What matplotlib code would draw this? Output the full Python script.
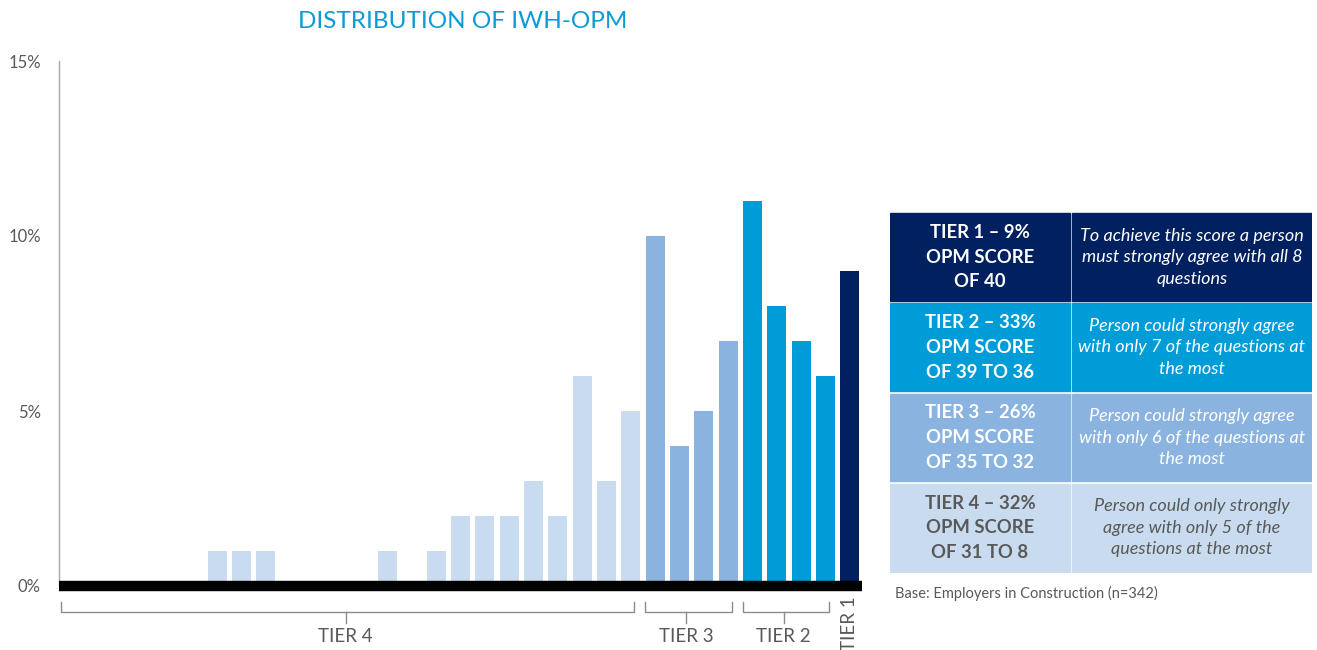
import matplotlib.pyplot as plt
from matplotlib.patches import Rectangle

plt.rcParams['font.family'] = ['Lato', 'DejaVu Sans']

# OPM score -> share of employers (%)
scores = list(range(8, 41))
shares = [0, 0, 0, 0, 0, 0, 1, 1, 1, 0, 0, 0, 0, 1, 0, 1, 2, 2, 2, 3, 2, 6, 3, 5,
          10, 4, 5, 7,
          11, 8, 7, 6,
          9]

tier_names = ['TIER 4', 'TIER 3', 'TIER 2', 'TIER 1']
tier_ranges = [(8, 31), (32, 35), (36, 39), (40, 40)]
tier_colors = ['#C9DCEF', '#8AB4DF', '#009CD8', '#00205F']

table_heads = ['TIER 1 \u2013 9%\nOPM SCORE\nOF 40',
               'TIER 2 \u2013 33%\nOPM SCORE\nOF 39 TO 36',
               'TIER 3 \u2013 26%\nOPM SCORE\nOF 35 TO 32',
               'TIER 4 \u2013 32%\nOPM SCORE\nOF 31 TO 8']
table_notes = ['To achieve this score a person\nmust strongly agree with all 8\nquestions',
               'Person could strongly agree\nwith only 7 of the questions at\nthe most',
               'Person could strongly agree\nwith only 6 of the questions at\nthe most',
               'Person could only strongly\nagree with only 5 of the\nquestions at the most']
table_colors = ['#00205F', '#009CD8', '#8AB4DF', '#C9DCEF']
table_text = ['white', 'white', 'white', '#595959']

GREY = '#595959'
W, H = 1317, 650

fig = plt.figure(figsize=(W / 100, H / 100), dpi=100)
ax = fig.add_axes([59 / W, (H - 586) / H, 803 / W, 525 / H])


def tier_of(s):
  for i, (lo, hi) in enumerate(tier_ranges):
    if lo <= s <= hi:
      return i


colors = [tier_colors[tier_of(s)] for s in scores]
ax.bar(scores, shares, width=0.78, color=colors, zorder=2)
ax.axhline(0, color='black', linewidth=7.5, zorder=3, solid_capstyle='butt',
           clip_on=False)

ax.set_xlim(7.5, 40.5)
ax.set_ylim(0, 15)
ax.set_yticks([0, 5, 10, 15])
ax.set_yticklabels(['0%', '5%', '10%', '15%'])
ax.tick_params(axis='y', length=0, pad=13, labelsize=12, labelcolor=GREY)
ax.set_xticks([])
for side in ['top', 'right', 'bottom']:
  ax.spines[side].set_visible(False)
ax.spines['left'].set_color('#A6A6A6')
ax.spines['left'].set_linewidth(1)

# brackets under each tier
y_top, y_mid, y_tick = -0.46, -0.74, -1.06
for name, (lo, hi) in zip(tier_names, tier_ranges):
  if lo == hi:
    ax.text(lo, -1.08, name, rotation=90, ha='center', va='center',
            fontsize=13.5, color=GREY, clip_on=False)
    continue
  x0, x1 = lo - 0.4, hi + 0.15
  xm = (x0 + x1) / 2 - 0.1
  ax.plot([x0, x0, x1, x1], [y_top, y_mid, y_mid, y_top], color='#8C8C8C',
          linewidth=1, clip_on=False)
  ax.plot([xm, xm], [y_mid, y_tick], color='#8C8C8C', linewidth=1, clip_on=False)
  ax.text(xm, -1.45, name, ha='center', va='center', fontsize=13.5,
          color=GREY, clip_on=False)

fig.text(463 / W, 1 - 21 / H, 'DISTRIBUTION OF IWH-OPM', ha='center', va='center',
         fontsize=17.5, color='#0A9BD6')

# tier description table
tab = fig.add_axes([890 / W, (H - 573) / H, 422 / W, 361 / H])
tab.set_xlim(0, 422)
tab.set_ylim(361, 0)
tab.axis('off')
row_h = 361 / 4
for i in range(4):
  y0 = i * row_h
  tab.add_patch(Rectangle((0, y0 + 1), 180, row_h - 2.5, color=table_colors[i]))
  tab.add_patch(Rectangle((182, y0 + 1), 240, row_h - 2.5, color=table_colors[i]))
  tab.text(90, y0 + row_h / 2, table_heads[i], ha='center', va='center',
           fontsize=13.3, fontweight='bold', color=table_text[i], linespacing=1.55)
  tab.text(302, y0 + row_h / 2, table_notes[i], ha='center', va='center',
           fontsize=13, fontstyle='italic', color=table_text[i], linespacing=1.42)

fig.text(895 / W, 1 - 593 / H, 'Base: Employers in Construction (n=342)',
         ha='left', va='center', fontsize=10.5, color=GREY)

fig.savefig('out.png', dpi=100)
